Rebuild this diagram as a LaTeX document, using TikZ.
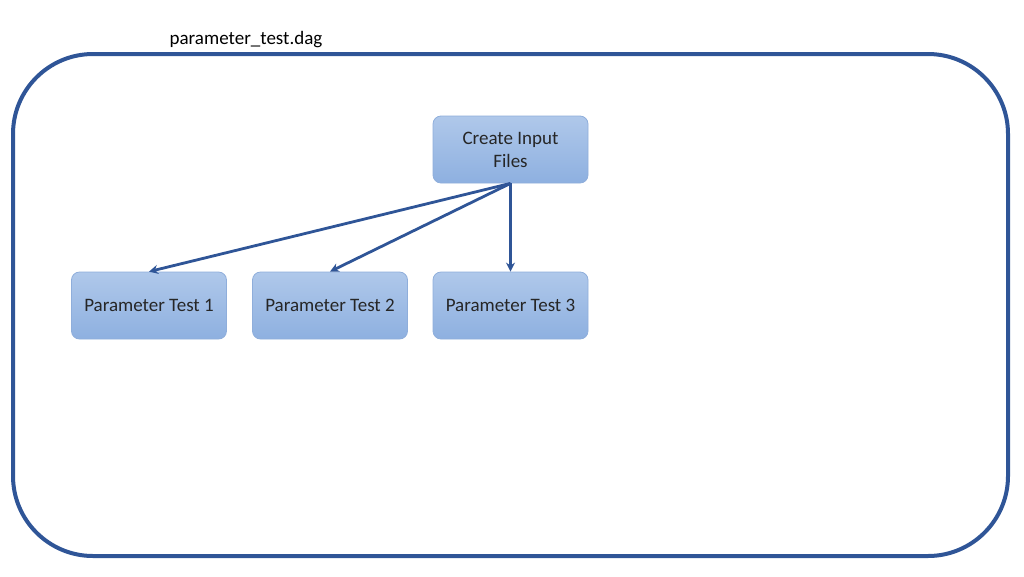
\documentclass[tikz,border=0pt]{standalone}
\usepackage{fontspec}
\setmainfont{Carlito}
\usetikzlibrary{arrows.meta}
\definecolor{frame}{HTML}{2F5597}
\definecolor{boxtop}{HTML}{AFC8EA}
\definecolor{boxbot}{HTML}{8EB0E0}
\definecolor{boxline}{HTML}{8FAEDB}
\tikzset{
  job/.style={draw=boxline, line width=0.8pt, rounded corners=8pt, top color=boxtop, bottom color=boxbot,
    minimum width=155pt, minimum height=67pt, inner sep=2pt, align=center, font=\fontsize{19}{23}\selectfont, text=black!85},
  edge/.style={draw=frame, line width=2.8pt, -{Stealth[length=9pt,width=9pt]}},
}
\begin{document}
\begin{tikzpicture}[x=1pt,y=-1pt]
\useasboundingbox (0,0) rectangle (1024,576);
\draw[frame, line width=4pt, rounded corners=80pt] (13,54) rectangle (1008,556);
\node[font=\fontsize{19}{22}\selectfont] (title) at (246,40) {parameter\_test.dag};
\node[job] (create) at (510.5,149.5) {Create Input\\Files};
\node[job] (p1) at (149,305.5) {Parameter Test 1};
\node[job] (p2) at (330,305.5) {Parameter Test 2};
\node[job] (p3) at (510.5,305.5) {Parameter Test 3};
\draw[edge] (create.south) -- (p1.north);
\draw[edge] (create.south) -- (p2.north);
\draw[edge] (create.south) -- (p3.north);
\end{tikzpicture}
\end{document}
